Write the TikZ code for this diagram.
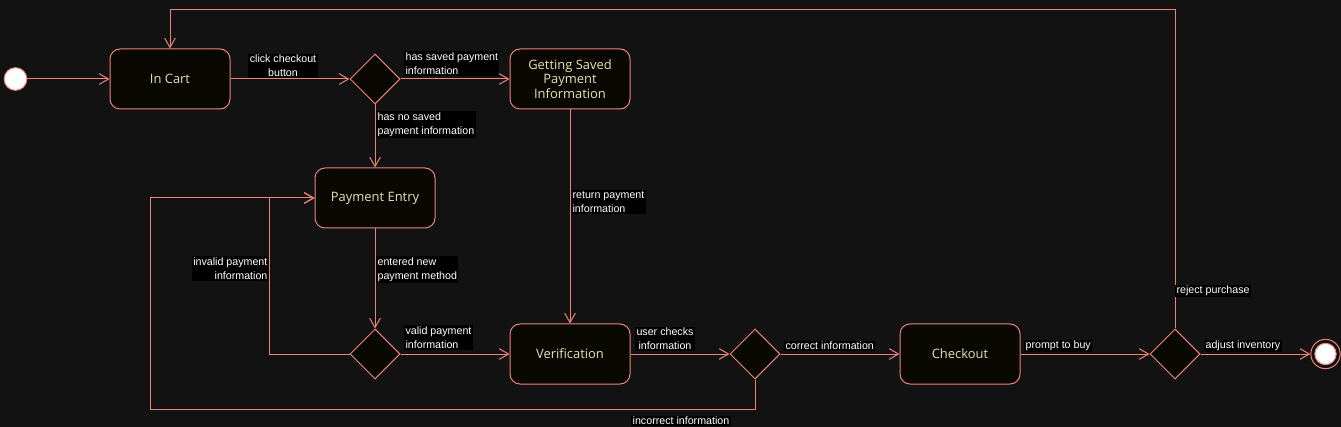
\documentclass[tikz,border=0pt]{standalone}
\usepackage{fontspec}
\setmainfont{Liberation Sans}
\newfontfamily\nodefont{Open Sans}
\usetikzlibrary{shapes.geometric,arrows.meta}
\definecolor{bgc}{HTML}{121212}
\definecolor{strk}{HTML}{EE8479}
\definecolor{nfill}{HTML}{0A0803}
\definecolor{ntext}{HTML}{E4E4B0}
\tikzset{
  px/.style={x=0.75pt,y=-0.75pt},
  state/.style={draw=strk, fill=nfill, rounded corners=7.5pt, line width=0.75pt,
    minimum width=90pt, minimum height=45pt, text=ntext, align=center,
    font=\nodefont\fontsize{9.7}{11}\selectfont, inner sep=2pt},
  choice/.style={draw=strk, fill=nfill, diamond, line width=0.75pt,
    minimum width=37.5pt, minimum height=37.5pt, inner sep=0pt},
  arr/.style={draw=strk, line width=0.75pt, -{Straight Barb[length=7pt,width=8pt]}},
  lbl/.style={fill=black, text=white, inner sep=1pt,
    font=\fontsize{8}{10.5}\selectfont},
}
\begin{document}
\begin{tikzpicture}[px]
\fill[bgc] (0,0) rectangle (1341,427);
\useasboundingbox (0,0) rectangle (1341,427);
% nodes
\node[circle, draw=strk, fill=white, line width=0.75pt, minimum size=17pt, inner sep=0pt] (start) at (15.5,79) {};
\node[state] (cart) at (170,79) {In Cart};
\node[choice] (d1) at (375,79) {};
\node[state] (saved) at (570,79) {Getting Saved\\Payment\\Information};
\node[state] (entry) at (375,198) {Payment Entry};
\node[choice] (d2) at (375,354) {};
\node[state] (verif) at (570,354) {Verification};
\node[choice] (d3) at (755,354) {};
\node[state] (checkout) at (960,354) {Checkout};
\node[choice] (d4) at (1175,354) {};
\node[circle, draw=strk, line width=0.75pt, minimum size=22pt, inner sep=0pt] (end) at (1325.5,354) {};
\node[circle, draw=strk, fill=white, line width=0.75pt, minimum size=16pt, inner sep=0pt] (endin) at (end) {};
\coordinate (ic) at (150,409);
\coordinate (rc) at (170,10);
% edges
\draw[arr] (start) -- (cart);
\draw[arr] (cart) -- (d1);
\draw[arr] (d1) -- (saved);
\draw[arr] (d1) -- (entry);
\draw[arr] (saved) -- (verif);
\draw[arr] (entry) -- (d2);
\draw[arr] (d2) -- (verif);
\draw[arr] (d2.west) -- ++(-80,0) |- (entry.west);
\draw[arr] (verif) -- (d3);
\draw[arr] (d3.south) |- (ic) |- (entry.west);
\draw[arr] (d3) -- (checkout);
\draw[arr] (checkout) -- (d4);
\draw[arr] (d4) -- (end);
\draw[arr] (d4.north) |- (rc) -- (cart.north);
% labels
\node[lbl, align=center] (l1) at (283,66) {click checkout\\button};
\node[lbl, align=left, anchor=north west] (l2) at (404,51) {has saved payment\\information};
\node[lbl, align=left, anchor=north west] (l3) at (376,111) {has no saved\\payment information};
\node[lbl, align=left, anchor=north west] (l4) at (571,190) {return payment\\information};
\node[lbl, align=left, anchor=north west] (l5) at (376,256) {entered new\\payment method};
\node[lbl, align=left, anchor=north west] (l6) at (404,325) {valid payment\\information};
\node[lbl, align=right, anchor=north east] (l7) at (269,256) {invalid payment\\information};
\node[lbl, align=center] (l8) at (665,339) {user checks\\information};
\node[lbl, anchor=west] (l9) at (784,346) {correct information};
\node[lbl, anchor=west] (l10) at (1024,346) {prompt to buy};
\node[lbl, anchor=west] (l11) at (1204,346) {adjust inventory};
\node[lbl, anchor=west] (l12) at (1175,291) {reject purchase};
\node[lbl] (l13) at (681,421) {incorrect information};
\end{tikzpicture}
\end{document}
